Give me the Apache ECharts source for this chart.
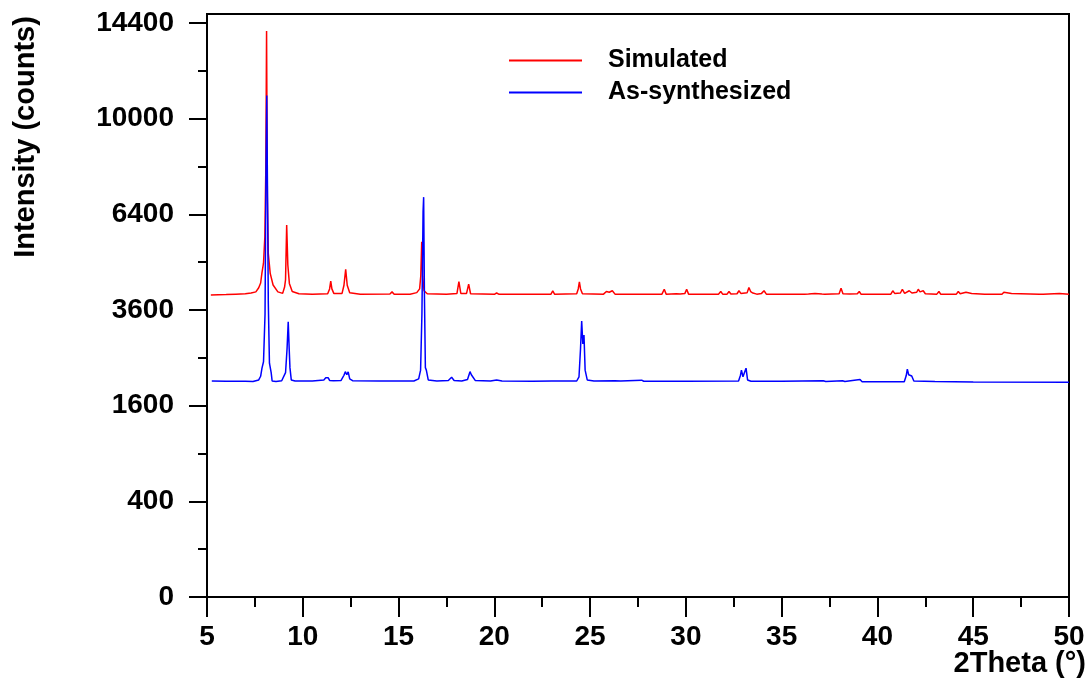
<!DOCTYPE html>
<html>
<head>
<meta charset="utf-8">
<script src="https://cdn.jsdelivr.net/npm/echarts@6/dist/echarts.min.js"></script>
<style>
html,body{margin:0;padding:0;background:#fff;}
#chart{width:1090px;height:683px;}
</style>
</head>
<body>
<div id="chart"></div>
<script>
// [2Theta (deg), intensity (counts)]
var simulated = [
[5.2,3990],[6.0,4000],[6.5,4010],[7.0,4020],[7.3,4040],[7.55,4070],[7.7,4180],[7.8,4310],[7.87,4600],[7.95,4870],[8.02,5670],[8.07,8000],[8.11,14000],[8.15,7000],[8.2,5160],[8.3,4580],[8.45,4255],[8.7,4070],[8.95,4030],[9.05,4200],[9.1,4400],[9.16,6050],[9.22,4820],[9.3,4300],[9.45,4080],[9.8,4020],[10.5,4010],[11.3,4020],[11.4,4150],[11.46,4365],[11.52,4150],[11.62,4030],[12.05,4030],[12.15,4250],[12.24,4695],[12.32,4250],[12.45,4050],[13.0,4010],[14.55,4015],[14.66,4070],[14.77,4010],[15.6,4010],[15.95,4050],[16.1,4150],[16.16,4500],[16.21,5520],[16.26,4500],[16.33,4100],[16.5,4020],[17.5,4005],[18.05,4030],[18.15,4345],[18.25,4030],[18.55,4030],[18.66,4280],[18.76,4020],[20.0,4005],[20.12,4040],[20.25,4005],
[22.95,4005],[23.05,4095],[23.15,4005],[24.3,4020],[24.38,4150],[24.44,4345],[24.5,4150],[24.6,4020],[25.7,4010],[25.85,4080],[25.9,4100],[26.0,4060],[26.1,4080],[26.16,4100],[26.3,4010],[27.6,4005],[27.69,4040],[27.8,4005],[28.75,4010],[28.87,4140],[28.97,4010],[29.5,4020],[29.6,4070],[29.7,4015],[29.95,4030],[30.04,4140],[30.14,4010],[31.7,4010],[31.82,4080],[31.92,4010],[32.15,4010],[32.25,4080],[32.35,4015],[32.67,4020],[32.77,4100],[32.87,4030],[33.2,4050],[33.29,4190],[33.38,4080],[33.5,4040],[33.7,4010],[33.95,4030],[34.08,4100],[34.2,4010],[34.8,4010],[34.9,4060],[35.0,4010],[36.2,4010],[36.27,4060],[36.4,4015],[36.74,4030],[37.1,4015],[37.16,4060],[37.25,4010],[38.0,4020],[38.1,4165],[38.2,4020],[38.55,4015],[38.65,4030],[38.95,4020],[39.05,4080],[39.15,4005],[40.7,4010],[40.8,4100],[40.9,4030],[41.2,4040],[41.3,4140],[41.42,4030],[41.66,4100],[41.8,4040],[42.05,4060],[42.13,4140],[42.22,4070],[42.39,4100],[42.5,4020],[43.1,4010],[43.21,4080],[43.3,4010],[44.12,4010],[44.22,4080],[44.32,4020],[44.62,4060],[44.7,4015],[44.92,4030],[45.0,4005],[45.6,4010],[45.7,4060],[45.8,4010],[46.5,4005],[46.6,4060],[46.7,4010],[47.0,4030],[47.1,4005],[48.45,4010],[48.54,4060],[48.65,4010],[49.5,4030],[50.0,4010]
];
var asSynthesized = [
[5.25,2040],[6.0,2035],[7.0,2035],[7.4,2030],[7.5,2040],[7.7,2060],[7.8,2130],[7.87,2290],[7.95,2420],[8.03,3500],[8.08,8000],[8.12,11000],[8.16,7000],[8.2,3800],[8.26,2390],[8.3,2420],[8.35,2200],[8.4,2040],[8.6,2030],[8.9,2045],[9.0,2060],[9.1,2200],[9.18,2700],[9.24,3313],[9.29,2700],[9.33,2300],[9.4,2060],[9.6,2040],[10.5,2040],[11.1,2060],[11.2,2100],[11.27,2080],[11.33,2100],[11.4,2050],[11.6,2045],[12.0,2050],[12.15,2150],[12.22,2220],[12.3,2160],[12.37,2215],[12.45,2080],[12.6,2045],[14.0,2040],[15.8,2040],[16.05,2080],[16.15,2250],[16.22,3500],[16.28,6500],[16.31,6990],[16.35,4000],[16.4,2300],[16.45,2250],[16.55,2060],[17.0,2040],[17.6,2050],[17.77,2110],[17.9,2050],[18.3,2040],[18.6,2070],[18.73,2220],[18.8,2160],[18.87,2150],[19.0,2050],[19.8,2040],[20.12,2060],[20.4,2040],[22.0,2035],[23.0,2040],[24.3,2040],[24.42,2120],[24.5,2700],[24.56,3330],[24.62,2800],[24.68,3000],[24.74,2250],[24.85,2060],[25.2,2040],[26.3,2045],[26.39,2060],[26.6,2040],[27.69,2055],[27.8,2035],[30.0,2035],[32.75,2040],[32.85,2150],[32.9,2250],[32.98,2120],[33.05,2150],[33.14,2290],[33.22,2060],[33.4,2035],[35.0,2035],[37.17,2045],[37.3,2030],[38.18,2045],[38.3,2030],[39.09,2070],[39.2,2025],[41.4,2025],[41.5,2140],[41.56,2268],[41.63,2160],[41.7,2130],[41.79,2135],[41.9,2040],[42.0,2030],[43.0,2030],[45.0,2020],[50.0,2015]
];
var seriesNames = ['Simulated', 'As-synthesized'];
var yTickCounts = [0, 400, 1600, 3600, 6400, 10000, 14400];
var yMinorCounts = [100, 900, 2500, 4900, 8100, 12100];

var FONT = '"Liberation Sans", Arial, sans-serif';
function toSqrt(arr){ return arr.map(function(p){ return [p[0], Math.sqrt(p[1])]; }); }
var yMajor = yTickCounts.map(Math.sqrt);
var yMinor = yMinorCounts.map(Math.sqrt);

var chart = echarts.init(document.getElementById('chart'), null, {renderer:'canvas'});
chart.setOption({
  animation: false,
  backgroundColor: '#fff',
  grid: {left:207, right:21, top:14, bottom:86, show:true, borderColor:'#000', borderWidth:2, backgroundColor:'transparent'},
  legend: {
    orient:'vertical', left:504, top:43, itemWidth:73, itemHeight:2, itemGap:7, icon:'rect',
    data: seriesNames,
    textStyle:{fontFamily:FONT, fontSize:25, fontWeight:'bold', color:'#000', lineHeight:24, padding:[0,0,0,21]}
  },
  xAxis: {
    type:'value', min:5, max:50, interval:5,
    axisLine:{show:true, lineStyle:{color:'#000', width:2}},
    axisTick:{show:true, length:20, lineStyle:{color:'#000', width:2}},
    minorTick:{show:true, splitNumber:2, length:10, lineStyle:{color:'#000', width:2}},
    splitLine:{show:false},
    axisLabel:{fontFamily:FONT, fontSize:28, fontWeight:'bold', color:'#000', margin:26}
  },
  yAxis: [{
    type:'value', min:0, max:121.9,
    axisLine:{show:true, lineStyle:{color:'#000', width:2}},
    axisTick:{show:true, length:18, lineStyle:{color:'#000', width:2}, customValues: yMajor},
    splitLine:{show:false},
    axisLabel:{fontFamily:FONT, fontSize:28, fontWeight:'bold', color:'#000', margin:33,
      customValues: yMajor,
      formatter:function(v){ return String(Math.round(v*v)); }}
  },{
    type:'value', min:0, max:121.9, position:'left',
    axisLine:{show:false},
    axisTick:{show:true, length:9, lineStyle:{color:'#000', width:2}, customValues: yMinor},
    splitLine:{show:false},
    axisLabel:{show:false, customValues: yMinor}
  }],
  graphic: [
    {type:'text', x:26, y:137, rotation:Math.PI/2,
     style:{text:'Intensity (counts)', font:'bold 29px ' + FONT, fill:'#000', textAlign:'center', textVerticalAlign:'middle'}},
    {type:'text', x:1086, y:664,
     style:{text:'2Theta (°)', font:'bold 29px ' + FONT, fill:'#000', textAlign:'right', textVerticalAlign:'middle'}}
  ],
  series: [
    {name:seriesNames[0], type:'line', data:toSqrt(simulated), showSymbol:false, symbol:'none',
     lineStyle:{color:'#ff0000', width:1.5}, itemStyle:{color:'#ff0000'}, z:2},
    {name:seriesNames[1], type:'line', data:toSqrt(asSynthesized), showSymbol:false, symbol:'none',
     lineStyle:{color:'#0000ff', width:1.5}, itemStyle:{color:'#0000ff'}, z:3}
  ]
});
</script>
</body>
</html>
